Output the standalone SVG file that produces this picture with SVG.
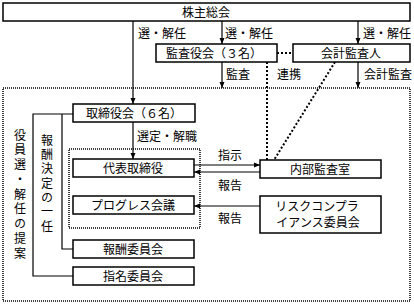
<svg xmlns="http://www.w3.org/2000/svg" width="414" height="304" viewBox="0 0 414 304">
<style>
text{font-family:"MS PGothic","Noto Sans CJK JP",sans-serif;font-size:12px;fill:#000}
.c{text-anchor:middle}
.v{writing-mode:vertical-rl;text-orientation:upright}
.box{fill:#fff;stroke:#000;stroke-width:1.5}
.ln{fill:none;stroke:#000;stroke-width:1.2}
.dot{fill:none;stroke:#000;stroke-width:2;stroke-dasharray:2 2}
.frame{fill:none;stroke:#000;stroke-width:1.5;stroke-dasharray:1 1}
</style>
<defs>
<marker id="ah" viewBox="0 0 6 6" refX="6" refY="3" markerWidth="6" markerHeight="6" orient="auto" markerUnits="userSpaceOnUse"><path d="M0,0.5 L6,3 L0,5.5z" fill="#000"/></marker>
</defs>
<rect class="frame" x="3" y="88" width="407" height="213"/>
<rect class="frame" x="69" y="149" width="131" height="79"/>
<g id="connectors">
<path class="ln" d="M133,21 V104" marker-end="url(#ah)"/>
<path class="ln" d="M222,21 V44" marker-end="url(#ah)"/>
<path class="ln" d="M358,21 V44" marker-end="url(#ah)"/>
<path class="ln" d="M222,62 V88" marker-end="url(#ah)"/>
<path class="ln" d="M358,62 V88" marker-end="url(#ah)"/>
<path class="ln" d="M133,122 V159" marker-end="url(#ah)"/>
<path class="ln" d="M194,165 H260" marker-end="url(#ah)"/>
<path class="ln" d="M260,172 H194" marker-end="url(#ah)"/>
<path class="ln" d="M260,206 H194" marker-end="url(#ah)"/>
<path class="ln" d="M73,114 H33 V276 H73"/>
<path class="ln" d="M62,114 V249 H73"/>
<path class="dot" d="M277,53 H293"/>
<path class="dot" d="M267,62 V160"/>
<path class="dot" d="M335,62 L274,160"/>
<text x="138" y="38">選・解任</text>
<text x="225" y="38">選・解任</text>
<text x="363" y="38">選・解任</text>
<text x="226" y="79">監査</text>
<text x="277" y="79">連携</text>
<text x="364" y="79">会計監査</text>
<text x="137" y="141">選定・解職</text>
<text x="218" y="160">指示</text>
<text x="218" y="190">報告</text>
<text x="218" y="223">報告</text>
<text class="v" x="20" y="129" style="letter-spacing:2.75px">役員選・解任の提案</text>
<text class="v" x="47" y="134" style="letter-spacing:2.35px">報酬決定の一任</text>
</g>
<g id="shareholders"><rect class="box" x="3" y="3" width="407" height="18"/><text class="c" x="206" y="16.5">株主総会</text></g>
<g id="auditors"><rect class="box" x="156" y="44" width="121" height="18"/><text class="c" x="214" y="57.5">監査役会（３名）</text></g>
<g id="accounting-auditor"><rect class="box" x="293" y="44" width="117" height="18"/><text class="c" x="351" y="57.5">会計監査人</text></g>
<g id="board"><rect class="box" x="73" y="104" width="122" height="18"/><text class="c" x="134" y="117.5">取締役会（６名）</text></g>
<g id="representative"><rect class="box" x="73" y="159" width="121" height="18"/><text class="c" x="133" y="172.5">代表取締役</text></g>
<g id="internal-audit"><rect class="box" x="260" y="160" width="121" height="18"/><text class="c" x="320" y="173.5">内部監査室</text></g>
<g id="progress"><rect class="box" x="73" y="196" width="121" height="18"/><text class="c" x="133" y="209.5">プログレス会議</text></g>
<g id="risk"><rect class="box" x="260" y="196" width="121" height="37"/><text class="c" x="317" y="211">リスクコンプラ</text><text class="c" x="318" y="227">イアンス委員会</text></g>
<g id="remuneration"><rect class="box" x="73" y="240" width="121" height="18"/><text class="c" x="133" y="253.5">報酬委員会</text></g>
<g id="nomination"><rect class="box" x="73" y="267" width="121" height="18"/><text class="c" x="133" y="280.5">指名委員会</text></g>
</svg>
